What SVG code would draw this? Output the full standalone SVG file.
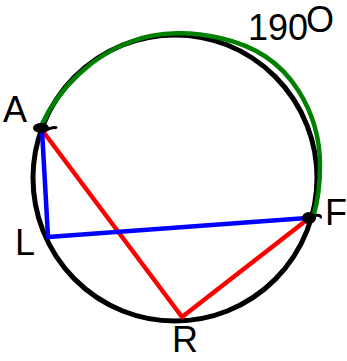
<svg xmlns="http://www.w3.org/2000/svg" width="347" height="361" viewBox="0 0 347 361">
<style>
.lbl{font-family:"Liberation Sans",Arial,sans-serif;font-size:36px;fill:#000}
.ln{fill:none;stroke-width:4.5;stroke-linecap:round;stroke-linejoin:round}
</style>
<rect width="347" height="361" fill="#fff"/>
<g id="circle"><ellipse cx="175" cy="178" rx="142" ry="143" fill="none" stroke="#000" stroke-width="5"/></g>
<g id="arc"><path class="ln" stroke="#008000" stroke-width="5" d="M41,126 C60,85 95,55 130,42 C160,30 195,32 220,38 C255,46 280,62 298,90 C314,115 320,140 320,165 C320,185 318,200 314,214"/></g>
<g id="connectors">
<path class="ln" stroke="#f00" d="M42,130 L182,317 L308,219"/>
<path class="ln" stroke="#00f" d="M42,130 L48,237 L307,218"/>
</g>
<g id="A"><ellipse cx="41" cy="128" rx="8" ry="5" fill="#000"/><path d="M44,131 C50,128 55,127 57,128" fill="none" stroke="#000" stroke-width="3"/><text class="lbl" x="3" y="122">A</text></g>
<g id="F"><ellipse cx="309" cy="218" rx="7" ry="6" fill="#000"/><path d="M313,216 C318,214 322,216 320,218" fill="none" stroke="#000" stroke-width="3"/><text class="lbl" x="325" y="225">F</text></g>
<g id="L"><text class="lbl" x="15" y="255">L</text></g>
<g id="R"><text class="lbl" x="172" y="352" font-size="34">R</text></g>
<g id="angle"><text class="lbl" x="248" y="40" font-size="35">190</text><text class="lbl" x="306" y="32" font-size="20">O</text></g>
</svg>
